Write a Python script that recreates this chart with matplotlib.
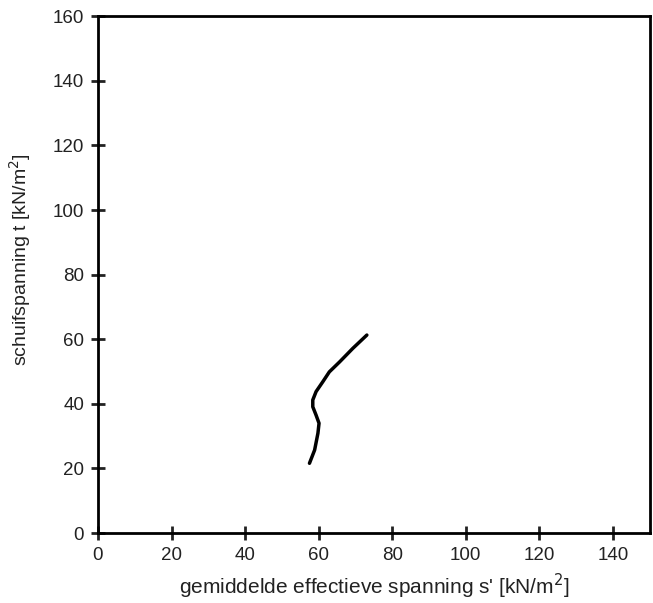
import matplotlib
matplotlib.use("Agg")
import matplotlib.pyplot as plt

# traced stress path (s', t)
s_eff = [57.5, 58.9, 59.8, 60.1, 59.3, 58.4, 58.4, 59.3, 61.1, 62.9, 65.7, 69.3, 73.1]
t_shear = [21.6, 25.7, 30.9, 34.0, 36.5, 39.1, 41.2, 43.8, 46.8, 49.9, 53.0, 57.2, 61.3]

x_ticks = [0, 20, 40, 60, 80, 100, 120, 140]
y_ticks = [0, 20, 40, 60, 80, 100, 120, 140, 160]

plt.rcParams['font.family'] = ['Liberation Sans', 'DejaVu Sans']

fig = plt.figure(figsize=(6.53, 6.03), dpi=100)
ax = fig.add_axes([0.150, 0.116, 0.845, 0.857])

ax.plot(s_eff, t_shear, color="black", lw=2.5, solid_capstyle="round")

ax.set_xlim(0, 150)
ax.set_ylim(0, 160)
ax.set_xticks(x_ticks)
ax.set_yticks(y_ticks)
ax.tick_params(direction="inout", length=10, width=2, labelsize=13.5, colors="#222222", pad=5)
for sp in ax.spines.values():
    sp.set_linewidth(2)

ax.set_xlabel("gemiddelde effectieve spanning s' [kN/m$^2$]", fontsize=15, color="#222222", labelpad=6)
ax.set_ylabel("schuifspanning t [kN/m$^2$]", fontsize=14, color="#222222")
ax.yaxis.set_label_coords(-0.118, 0.53)

fig.savefig("out.png", dpi=100)
